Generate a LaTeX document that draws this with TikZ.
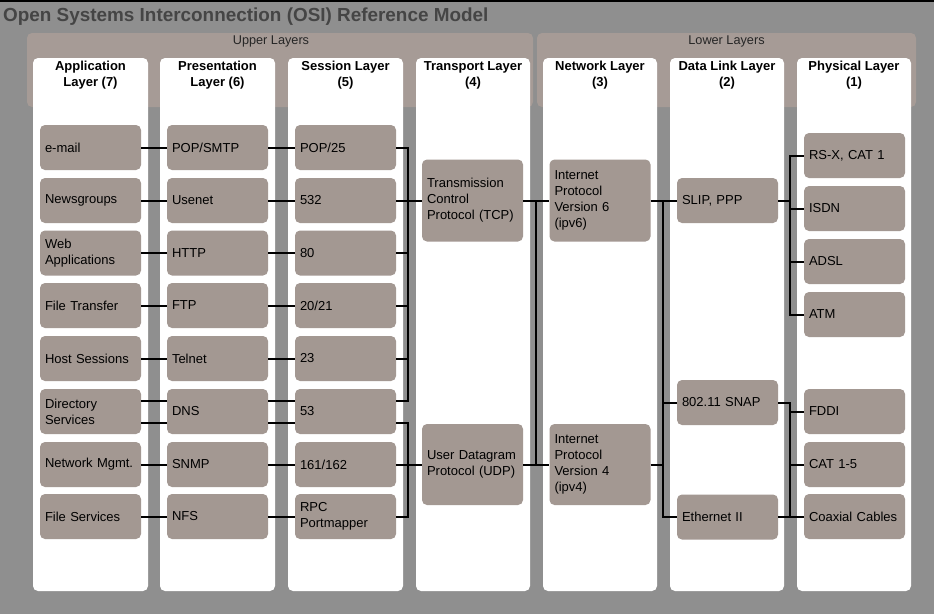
\documentclass[tikz,border=0pt]{standalone}
\usepackage{fontspec}
\setmainfont{Liberation Sans}
\usetikzlibrary{calc}
\definecolor{bgc}{HTML}{8F8F8F}
\definecolor{bandc}{HTML}{A69B96}
\definecolor{boxc}{HTML}{A39892}
\definecolor{titc}{HTML}{454545}
\begin{document}
\begin{tikzpicture}[x=1pt,y=-1pt,
  band/.style={fill=bandc, rounded corners=5pt},
  col/.style={fill=white, rounded corners=5pt},
  item/.style={fill=boxc, rounded corners=5pt, minimum width=101pt, minimum height=45pt, text width=91pt, inner xsep=5pt, inner ysep=0pt, align=left, font=\fontsize{13}{16}\selectfont},
  hdr/.style={font=\fontsize{13}{16}\selectfont\bfseries, align=center, inner sep=0pt, anchor=north},
  lbl/.style={font=\fontsize{12.7}{15}\selectfont, inner sep=0pt, text=black!85},
  wire/.style={line width=2pt, black},
  bus/.style={line width=2pt, black, line cap=rect},
]
\useasboundingbox (0,0) rectangle (934,614);
\fill[bgc] (0,0) rectangle (934,614);
\fill[black] (0,0) rectangle (934,1.5);
\node[anchor=base west, font=\fontsize{18.9}{22}\selectfont\bfseries, text=titc, inner sep=0pt] (title) at (3,21.5) {Open Systems Interconnection (OSI) Reference Model};
% bands
\path[band] (27,33) rectangle (533,107);
\path[band] (537,33) rectangle (916,107);
\node[lbl] (upper) at (271,41.5) {Upper Layers};
\node[lbl] (lower) at (726.5,41.5) {Lower Layers};
% columns
\path[col] (33,58) rectangle (148,591);
\path[col] (160,58) rectangle (275,591);
\path[col] (288,58) rectangle (403,591);
\path[col] (416,58) rectangle (530,591);
\path[col] (543,58) rectangle (657,591);
\path[col] (670,58) rectangle (784,591);
\path[col] (797,58) rectangle (911,591);
\node[hdr] (h7) at (90.5,59) {\strut Application\\Layer (7)};
\node[hdr] (h6) at (217.5,59) {\strut Presentation\\Layer (6)};
\node[hdr] (h5) at (345.5,59) {\strut Session Layer\\(5)};
\node[hdr] (h4) at (473,59) {\strut Transport Layer\\(4)};
\node[hdr] (h3) at (600,59) {\strut Network Layer\\(3)};
\node[hdr] (h2) at (727,59) {\strut Data Link Layer\\(2)};
\node[hdr] (h1) at (854,59) {\strut Physical Layer\\(1)};
% application
\node[item] (a1) at (90.5,147.5) {e-mail};
\node[item] (a2) at (90.5,200.5) {Newsgroups};
\node[item] (a3) at (90.5,253) {Web\\Applications};
\node[item] (a4) at (90.5,305.5) {File Transfer};
\node[item] (a5) at (90.5,358.5) {Host Sessions};
\node[item] (a6) at (90.5,411.5) {Directory\\Services};
\node[item] (a7) at (90.5,464.5) {Network Mgmt.};
\node[item] (a8) at (90.5,516.5) {File Services};
% presentation
\node[item] (p1) at (217.5,147.5) {POP/SMTP};
\node[item] (p2) at (217.5,200.5) {Usenet};
\node[item] (p3) at (217.5,253) {HTTP};
\node[item] (p4) at (217.5,305.5) {FTP};
\node[item] (p5) at (217.5,358.5) {Telnet};
\node[item] (p6) at (217.5,411.5) {DNS};
\node[item] (p7) at (217.5,464.5) {SNMP};
\node[item] (p8) at (217.5,516.5) {NFS};
% session
\node[item] (s1) at (345.5,147.5) {POP/25};
\node[item] (s2) at (345.5,200.5) {532};
\node[item] (s3) at (345.5,253) {80};
\node[item] (s4) at (345.5,305.5) {20/21};
\node[item] (s5) at (345.5,358.5) {23};
\node[item] (s6) at (345.5,411.5) {53};
\node[item] (s7) at (345.5,464.5) {161/162};
\node[item] (s8) at (345.5,516.5) {RPC\\Portmapper};
% transport
\node[item, minimum height=82pt] (tcp) at (472.5,200.5) {Transmission\\Control\\Protocol (TCP)};
\node[item, minimum height=81pt] (udp) at (472.5,464.5) {User Datagram\\Protocol (UDP)};
% network
\node[item, minimum height=82pt] (ip6) at (600,200.5) {Internet\\Protocol\\Version 6\\(ipv6)};
\node[item, minimum height=81pt] (ip4) at (600,464.5) {Internet\\Protocol\\Version 4\\(ipv4)};
% data link
\node[item] (slip) at (727.5,200.5) {SLIP, PPP};
\node[item] (snap) at (727.5,402.5) {802.11 SNAP};
\node[item] (eth) at (727.5,517) {Ethernet II};
% physical
\node[item] (rsx) at (854.5,155.5) {RS-X, CAT 1};
\node[item] (isdn) at (854.5,208.5) {ISDN};
\node[item] (adsl) at (854.5,261.5) {ADSL};
\node[item] (atm) at (854.5,314.5) {ATM};
\node[item] (fddi) at (854.5,411.5) {FDDI};
\node[item] (cat) at (854.5,464.5) {CAT 1-5};
\node[item] (coax) at (854.5,516.5) {Coaxial Cables};
% bus coordinates
\coordinate (bS) at (408,0);
\coordinate (bN) at (536,0);
\coordinate (bD) at (663,0);
\coordinate (bP) at (790,0);
% app - presentation - session
\foreach \n in {1,2,3,4,5,7,8} {
  \draw[wire] (a\n.east) -- (p\n.west);
  \draw[wire] (p\n.east) -- (s\n.west);
}
\draw[wire] ($(a6.east)+(0,-11)$) -- ($(p6.west)+(0,-11)$);
\draw[wire] ($(a6.east)+(0,11)$) -- ($(p6.west)+(0,11)$);
\draw[wire] ($(p6.east)+(0,-11)$) -- ($(s6.west)+(0,-11)$);
\draw[wire] ($(p6.east)+(0,11)$) -- ($(s6.west)+(0,11)$);
% session - transport
\coordinate (s6u) at ($(s6.east)+(0,-11)$);
\coordinate (s6d) at ($(s6.east)+(0,11)$);
\foreach \n in {1,2,3,4,5} {
  \draw[wire] (s\n.east) -- (s\n.east -| bS);
}
\draw[wire] (s6u) -- (s6u -| bS);
\draw[bus] (s1.east -| bS) -- (s6u -| bS);
\draw[wire] (tcp.west -| bS) -- (tcp.west);
\draw[wire] (s6d) -- (s6d -| bS);
\draw[wire] (s7.east) -- (s7.east -| bS);
\draw[wire] (s8.east) -- (s8.east -| bS);
\draw[bus] (s6d -| bS) -- (s8.east -| bS);
\draw[wire] (udp.west -| bS) -- (udp.west);
% transport - network
\draw[wire] (tcp.east) -- (ip6.west);
\draw[wire] (udp.east) -- (ip4.west);
\draw[bus] (tcp.east -| bN) -- (udp.east -| bN);
% network - data link
\draw[wire] (ip6.east) -- (slip.west);
\draw[wire] (ip4.east) -- (ip4.east -| bD);
\draw[wire] (snap.west -| bD) -- (snap.west);
\draw[wire] (eth.west -| bD) -- (eth.west);
\draw[bus] (ip6.east -| bD) -- (eth.west -| bD);
% data link - physical
\draw[wire] (slip.east) -- (slip.east -| bP);
\foreach \n in {rsx,isdn,adsl,atm} {
  \draw[wire] (\n.west -| bP) -- (\n.west);
}
\draw[bus] (rsx.west -| bP) -- (atm.west -| bP);
\draw[wire] (snap.east) -- (snap.east -| bP);
\foreach \n in {fddi,cat,coax} {
  \draw[wire] (\n.west -| bP) -- (\n.west);
}
\draw[wire] (eth.east) -- (eth.east -| bP);
\draw[bus] (snap.east -| bP) -- (coax.west -| bP);
\end{tikzpicture}
\end{document}
